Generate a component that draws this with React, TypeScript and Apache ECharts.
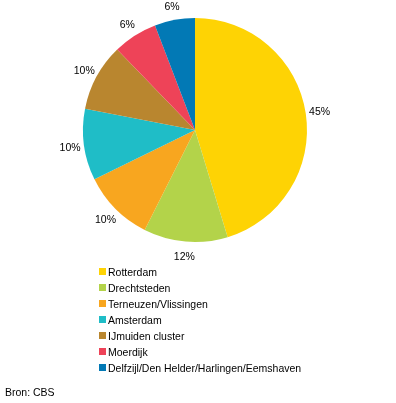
import React, { useEffect, useRef } from "react";
import * as echarts from "echarts";

const categories = [
  "Rotterdam",
  "Drechtsteden",
  "Terneuzen/Vlissingen",
  "Amsterdam",
  "IJmuiden cluster",
  "Moerdijk",
  "Delfzijl/Den Helder/Harlingen/Eemshaven",
];
const shares = [45.2, 12.1, 10.3, 10.3, 9.7, 6.4, 5.8];
const colors = ["#FED304", "#B3D34A", "#F8A61F", "#1FBDC7", "#B9862F", "#EE4358", "#0279B5"];
const source = "Bron: CBS";

const FONT = "Arial, 'Liberation Sans', sans-serif";
const FS = 10.5;

export default function App() {
  const ref = useRef<HTMLDivElement>(null);
  useEffect(() => {
    if (!ref.current) return;
    const chart = echarts.init(ref.current, undefined, { renderer: "svg" });
    const data = categories.map((name, i) => ({
      name,
      value: shares[i],
      itemStyle: { color: colors[i] },
    }));
    chart.setOption({
      animation: false,
      textStyle: { fontFamily: FONT },
      legend: {
        orient: "vertical",
        left: 99,
        top: 266,
        padding: 0,
        itemWidth: 7,
        itemHeight: 7,
        itemGap: 5,
        icon: "rect",
        selectedMode: false,
        textStyle: { fontFamily: FONT, fontSize: FS, color: "#000", padding: [0, 0, 0, -3] },
        data: categories,
      },
      graphic: [
        {
          type: "text",
          x: 5,
          y: 392,
          style: {
            text: source,
            font: `${FS}px ${FONT}`,
            fill: "#000",
            textVerticalAlign: "middle",
          },
        },
      ],
      series: [
        {
          type: "pie",
          center: [195, 130],
          radius: [0, 112],
          startAngle: 90,
          clockwise: true,
          silent: true,
          label: { show: false },
          labelLine: { show: false },
          data,
        },
        {
          type: "pie",
          center: [195, 130],
          radius: [110, 136],
          startAngle: 90,
          clockwise: true,
          silent: true,
          legendHoverLink: false,
          itemStyle: { color: "transparent" },
          label: {
            show: true,
            position: "inside",
            fontFamily: FONT,
            fontSize: FS,
            color: "#000",
            formatter: (p: any) => Math.round(p.value) + "%",
          },
          labelLine: { show: false },
          data: categories.map((name, i) => ({
            name: name + " ",
            value: shares[i],
            itemStyle: { color: "transparent" },
          })),
        },
      ],
    });
    return () => chart.dispose();
  }, []);
  return (
    <div
      ref={ref}
      style={{ position: "fixed", left: 0, top: 0, width: 396, height: 403 }}
    />
  );
}
